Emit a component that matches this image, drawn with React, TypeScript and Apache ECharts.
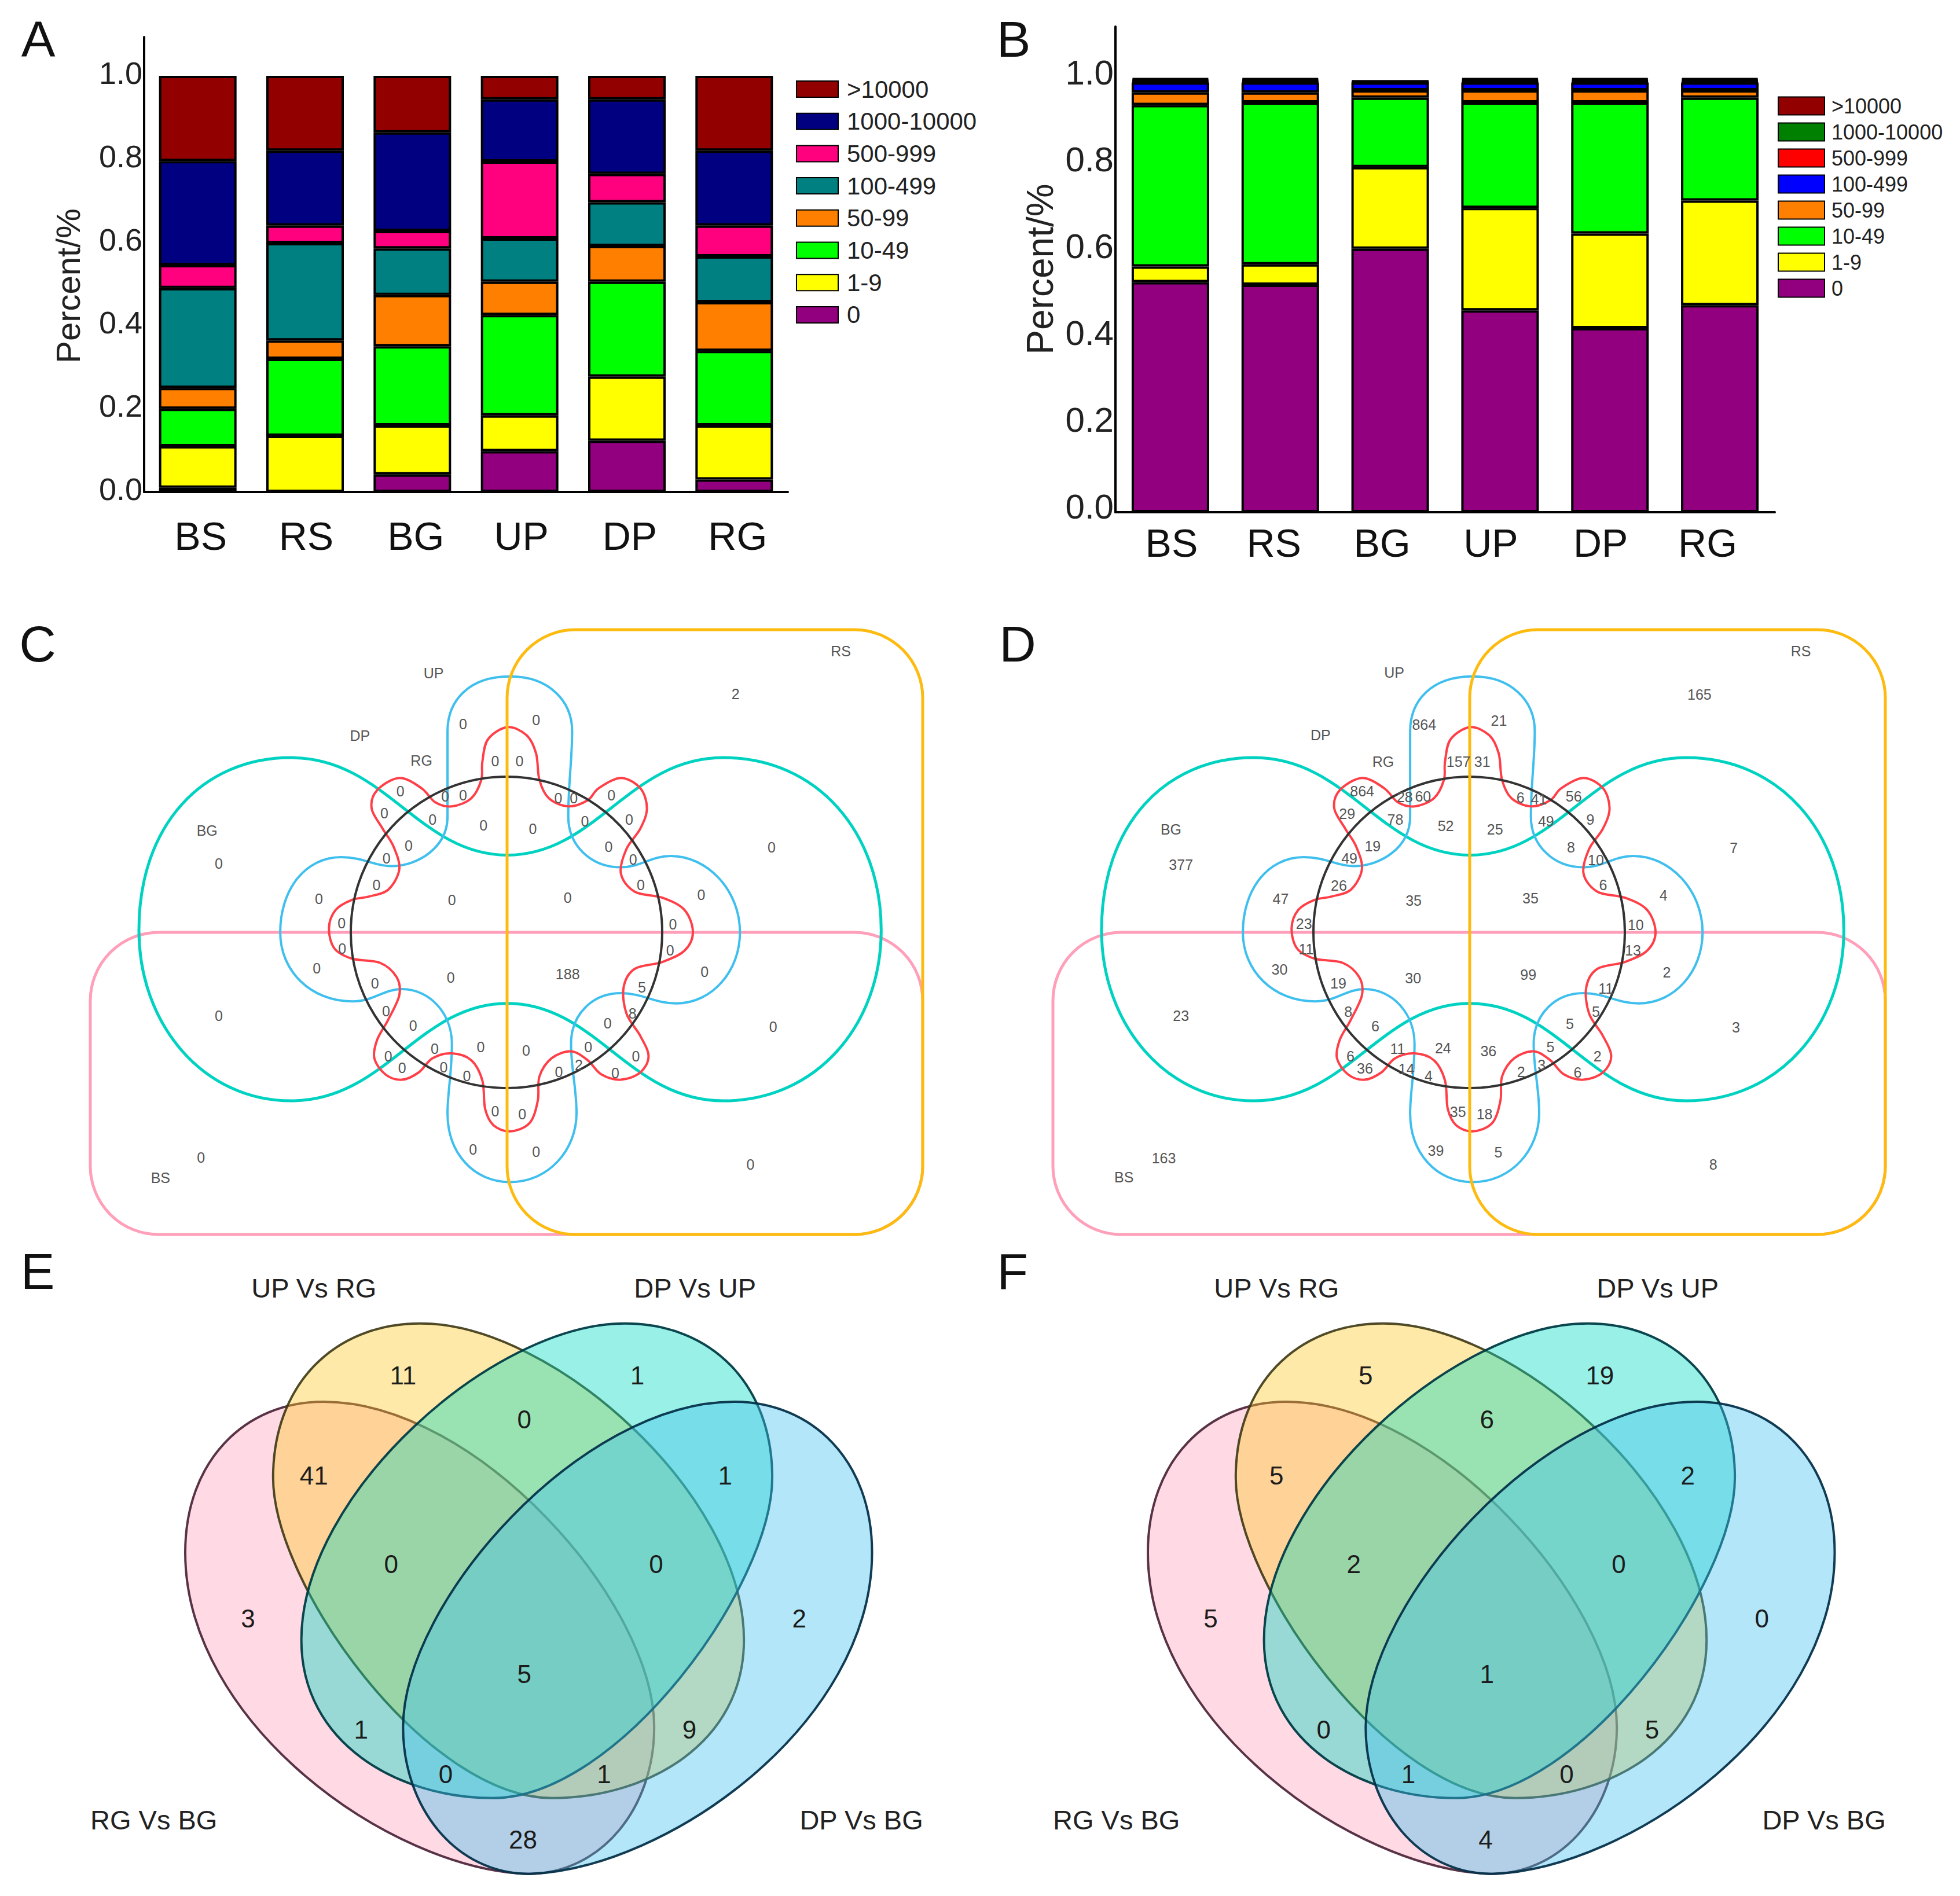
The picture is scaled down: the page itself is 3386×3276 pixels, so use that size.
import React, { useEffect, useRef } from "react";
import * as echarts from "echarts";

const FONT = '"Liberation Sans", Arial, sans-serif';

// ---------- Panels A and B data ----------
const categories = ["BS", "RS", "BG", "UP", "DP", "RG"];
const binNames = ["0", "1-9", "10-49", "50-99", "100-499", "500-999", "1000-10000", ">10000"];
const colorsA = ["#92007f", "#ffff00", "#00ff00", "#ff8000", "#008080", "#ff007f", "#000080", "#930000"];
const colorsB = ["#92007f", "#ffff00", "#00ff00", "#ff8000", "#0000ff", "#ff0000", "#008000", "#930000"];

const a0 = [0.01, 0, 0.042, 0.098, 0.123, 0.03];
const a1 = [0.1, 0.135, 0.118, 0.086, 0.154, 0.13];
const a10 = [0.09, 0.185, 0.19, 0.241, 0.228, 0.179];
const a50 = [0.05, 0.044, 0.123, 0.08, 0.086, 0.117];
const a100 = [0.24, 0.234, 0.112, 0.104, 0.105, 0.11];
const a500 = [0.055, 0.042, 0.042, 0.185, 0.068, 0.074];
const a1000 = [0.25, 0.18, 0.237, 0.149, 0.179, 0.18];
const a10000 = [0.205, 0.18, 0.136, 0.057, 0.057, 0.18];
const seriesA = [a0, a1, a10, a50, a100, a500, a1000, a10000];

const b0 = [0.53, 0.524, 0.607, 0.465, 0.424, 0.477];
const b1 = [0.036, 0.047, 0.188, 0.236, 0.218, 0.241];
const b10 = [0.372, 0.373, 0.16, 0.243, 0.302, 0.237];
const b50 = [0.029, 0.023, 0.017, 0.028, 0.028, 0.017];
const b100 = [0.023, 0.023, 0.018, 0.018, 0.018, 0.018];
const b500 = [0.003, 0.003, 0.001, 0.003, 0.003, 0.003];
const b1000 = [0.003, 0.003, 0.001, 0.003, 0.003, 0.003];
const b10000 = [0.004, 0.004, 0.002, 0.004, 0.004, 0.004];
const seriesB = [b0, b1, b10, b50, b100, b500, b1000, b10000];

const yTicks = { min: 0, interval: 0.2 };

// ---------- Panels C and D data ----------
const setNamesCD = ["UP", "RS", "DP", "RG", "BG", "BS"];
const valuesC = [
  "0", "0", "0", "0", "0", "0", "0", "0", "0", "0", "0", "0", "0", "0", "0", "0",
  "0", "0", "0", "0", "0", "0", "0", "0", "0", "0", "0", "0", "0", "0", "0", "0",
  "0", "188", "0", "5", "0", "8", "0", "0", "0", "0", "0", "0", "0", "0", "0", "0",
  "0", "0", "0", "0", "2", "0", "0", "0", "0", "0", "0", "0", "0", "0", "2",
];
const valuesD = [
  "864", "21", "157", "31", "864", "29", "78", "60", "28", "6", "41", "56", "9", "49", "52", "25",
  "19", "49", "8", "10", "26", "6", "35", "35", "47", "4", "23", "10", "11", "13", "30", "2",
  "30", "99", "19", "11", "8", "5", "6", "5", "23", "3", "11", "24", "36", "5", "6", "2",
  "36", "14", "4", "2", "3", "6", "35", "18", "39", "5", "163", "8", "377", "7", "165",
];

// ---------- Panels E and F data ----------
const setNamesEF = ["UP Vs RG", "DP Vs UP", "RG Vs BG", "DP Vs BG"];
const valuesE = ["11", "1", "0", "41", "1", "0", "0", "3", "2", "5", "1", "9", "0", "1", "28"];
const valuesF = ["5", "19", "6", "5", "2", "2", "0", "5", "0", "1", "0", "5", "1", "0", "4"];

// ---------- Layout (positions in crop coordinates) ----------
type P = [number, number];
type Seg = [number, number, number, number, number, number];
const labelPosC: P[] = [
  [700,272],[832,262],[758,364],[802,364],[587,438],[558,491],[645,507],[700,448],[668,450],[872,455],[900,455],[968,448],[1000,508],[920,511],[737,522],[826,530],
  [602,571],[562,603],[963,574],[1007,606],[544,668],[1021,668],[680,705],[889,700],[440,702],[1130,693],[481,763],[1079,765],[482,825],[1074,829],[436,874],[1136,882],
  [678,896],[889,888],[541,910],[1023,921],[561,979],[1006,985],[610,1015],[961,1009],[259,990],[1260,1017],[649,1071],[732,1068],[814,1076],[926,1068],[565,1090],[1012,1090],
  [590,1119],[665,1117],[707,1138],[873,1128],[909,1112],[975,1131],[758,1226],[807,1232],[718,1320],[832,1325],[227,1340],[1219,1356],[259,616],[1257,576],[1192,198],
];
const labelPosD: P[] = [
  [690,273],[825,263],[752,365],[795,365],[578,438],[551,493],[638,507],[688,450],[655,452],[864,453],[897,458],[960,450],[990,508],[910,512],[729,523],[818,531],
  [597,573],[555,603],[955,575],[1000,607],[536,670],[1013,668],[671,707],[882,701],[431,702],[1122,694],[473,764],[1072,767],[477,827],[1067,830],[429,877],[1128,883],
  [670,898],[878,889],[535,911],[1018,923],[553,980],[1000,981],[602,1016],[953,1010],[251,991],[1253,1019],[642,1072],[724,1070],[806,1078],[918,1068],[557,1090],[1003,1090],
  [583,1120],[658,1121],[698,1138],[865,1128],[902,1112],[967,1130],[751,1227],[799,1232],[711,1322],[824,1326],[220,1341],[1212,1357],[251,618],[1249,577],[1187,199],
];
const setPosC: P[] = [[647,147],[1382,92],[514,300],[625,362],[238,534],[154,1390]];
const setPosD: P[] = [[636,146],[1370,92],[503,299],[616,365],[233,532],[148,1388]];

const tealStart: P = [115, 780];
const tealSegs: Seg[] = [
  [115,520,230,355,390,355],[560,355,620,595,780,595],[940,595,1000,355,1170,355],[1340,355,1455,540,1455,780],
  [1455,1010,1340,1200,1170,1200],[1000,1200,940,960,780,960],[620,960,560,1200,390,1200],[230,1200,115,1010,115,780],
];
const blueStart: P = [785, 155];
const blueSegs: Seg[] = [
  [710,155,672,215,672,290],[672,360,672,420,672,500],[672,575,620,622,570,622],[540,622,520,600,480,600],
  [415,600,370,680,370,785],[370,880,425,955,500,955],[540,955,555,925,590,925],[640,925,680,985,680,1060],
  [680,1130,672,1180,672,1230],[672,1330,720,1400,785,1400],[855,1400,905,1320,905,1230],[905,1170,895,1120,895,1060],
  [895,985,935,935,985,935],[1025,935,1045,960,1085,960],[1150,960,1200,880,1200,785],[1200,680,1140,597,1075,597],
  [1040,597,1020,625,985,625],[930,625,890,570,890,500],[890,420,897,360,897,290],[897,215,855,155,785,155],
];
const redPts: P[] = [
  [780,280],[745,310],[735,365],[733,410],[715,455],[680,475],[650,465],[625,430],[585,405],[545,435],[535,480],[555,530],[575,575],[585,630],[565,680],[530,697],[500,705],[470,730],[458,775],[468,825],[500,850],[550,860],[580,895],[585,940],[565,1000],[545,1050],[540,1095],[560,1135],[590,1148],[620,1130],[645,1095],[680,1083],[715,1100],[735,1150],[740,1220],[755,1260],[785,1275],[820,1255],[835,1200],[838,1140],[860,1095],[895,1078],[925,1100],[950,1135],[985,1148],[1020,1130],[1035,1090],[1020,1040],[995,985],[990,920],[1010,875],[1060,858],[1100,830],[1115,785],[1100,730],[1060,700],[1010,685],[985,640],[995,580],[1020,530],[1032,480],[1020,430],[985,405],[945,430],[925,460],[890,475],[855,455],[838,410],[832,345],[815,300],
];

const lowerEggStart: P = [840, 1512];
const lowerEggSegs: Seg[] = [
  [620,1500,295,1150,295,740],[295,520,390,378,515,378],[760,378,1042,860,1042,1160],[1042,1350,960,1512,840,1512],
];
const upperEggStart: P = [670, 190];
const upperEggSegs: Seg[] = [
  [880,190,1185,600,1185,950],[1185,1200,1030,1330,880,1330],[680,1330,435,820,435,560],[435,340,530,190,670,190],
];
const LOWER_MIRROR = 1684;
const UPPER_MIRROR = 1665;

const countPosEF: P[] = [
  [642,315],[1015,315],[835,420],[500,555],[1155,555],[623,768],[1045,768],[395,898],[1273,898],[835,1032],[575,1165],[1098,1165],[710,1272],[962,1272],[833,1430],
];
const setPosEF: P[] = [[500,105],[1107,105],[245,1382],[1372,1382]];
const DX = 1663;

// ---------- Helpers ----------
const text = (s: string, x: number, y: number, size: number, fill: string, rotation = 0) => ({
  type: "text",
  x,
  y,
  rotation,
  silent: true,
  style: { text: s, fill, fontSize: size, fontFamily: FONT, align: "center", verticalAlign: "middle" },
});

const cdX = (z: number) => z / 1.045 + 130;
const cdY = (z: number) => z / 1.425 + 1060;
const efX = (z: number) => z / 0.922;
const efY = (z: number) => z / 1.39 + 2150;

function pathOf(start: P, segs: Seg[], mapX: (n: number) => number, mapY: (n: number) => number) {
  let d = `M${mapX(start[0]).toFixed(1)} ${mapY(start[1]).toFixed(1)}`;
  segs.forEach((s) => {
    d += `C${mapX(s[0]).toFixed(1)} ${mapY(s[1]).toFixed(1)} ${mapX(s[2]).toFixed(1)} ${mapY(s[3]).toFixed(1)} ${mapX(s[4]).toFixed(1)} ${mapY(s[5]).toFixed(1)}`;
  });
  return d + "Z";
}

function closedSpline(pts: P[]): Seg[] {
  const n = pts.length;
  return pts.map((p1, i) => {
    const p0 = pts[(i - 1 + n) % n];
    const p2 = pts[(i + 1) % n];
    const p3 = pts[(i + 2) % n];
    return [
      p1[0] + (p2[0] - p0[0]) / 6,
      p1[1] + (p2[1] - p0[1]) / 6,
      p2[0] - (p3[0] - p1[0]) / 6,
      p2[1] - (p3[1] - p1[1]) / 6,
      p2[0],
      p2[1],
    ] as Seg;
  });
}

const reg = (name: string, d: string) =>
  echarts.graphic.registerShape(name, echarts.graphic.extendPath(d, {}));

reg("vennTeal", pathOf(tealStart, tealSegs, cdX, cdY));
reg("vennBlue", pathOf(blueStart, blueSegs, cdX, cdY));
reg("vennRed", pathOf(redPts[0], closedSpline(redPts), cdX, cdY));
reg("eggPink", pathOf(lowerEggStart, lowerEggSegs, efX, efY));
reg("eggBlue", pathOf(lowerEggStart, lowerEggSegs, (z) => efX(LOWER_MIRROR - z), efY));
reg("eggYellow", pathOf(upperEggStart, upperEggSegs, efX, efY));
reg("eggTeal", pathOf(upperEggStart, upperEggSegs, (z) => efX(UPPER_MIRROR - z), efY));

function vennCD(dx: number, values: string[], pos: P[], setPos: P[], labelDx: number) {
  const els: any[] = [];
  const line = (stroke: string, lineWidth: number) => ({ fill: "none", stroke, lineWidth });
  els.push({ type: "rect", silent: true, shape: { x: 156 + dx, y: 1611, width: 1438, height: 522, r: 118 }, style: line("#ff9fb9", 5) });
  els.push({ type: "vennTeal", x: dx, silent: true, style: line("#00d2c1", 5) });
  els.push({ type: "vennBlue", x: dx, silent: true, style: line("#3fbfee", 4) });
  els.push({ type: "vennRed", x: dx, silent: true, style: line("#ff3f48", 4) });
  els.push({ type: "circle", silent: true, shape: { cx: 875 + dx, cy: 1611, r: 269 }, style: line("#333333", 4) });
  els.push({ type: "rect", silent: true, shape: { x: 876 + dx, y: 1088, width: 718, height: 1045, r: 118 }, style: line("#fdbb0f", 5) });
  pos.forEach(([x, y], i) => {
    els.push(text(values[i], x / 1.045 + labelDx, cdY(y), 25, "#555555"));
  });
  setPos.forEach(([x, y], i) => {
    els.push(text(setNamesCD[i], x / 1.045 + labelDx, cdY(y), 25, "#555555"));
  });
  return els;
}

function vennEF(dx: number, values: string[]) {
  const els: any[] = [];
  const mapX = (z: number) => efX(z) + dx;
  const fillShape = (type: string, fill: string, stroke: string) => ({
    type,
    x: dx,
    silent: true,
    style: { fill, stroke, lineWidth: 4 },
  });
  els.push(fillShape("eggPink", "rgba(255,160,185,0.4)", "rgba(70,30,50,0.9)"));
  els.push(fillShape("eggYellow", "rgba(255,200,37,0.4)", "rgba(60,55,20,0.9)"));
  els.push(fillShape("eggTeal", "rgba(0,217,192,0.4)", "rgba(0,60,70,0.95)"));
  els.push(fillShape("eggBlue", "rgba(65,192,237,0.4)", "rgba(5,50,75,0.95)"));
  countPosEF.forEach(([x, y], i) => {
    els.push(text(values[i], mapX(x), efY(y), 44, "#1c1c1c"));
  });
  setPosEF.forEach(([x, y], i) => {
    els.push(text(setNamesEF[i], mapX(x), efY(y), 47, "#222222"));
  });
  return els;
}

function barSeries(prefix: string, data: number[][], colors: string[], axis: number) {
  return data.map((values, i) => ({
    name: `${prefix}:${binNames[i]}`,
    type: "bar",
    stack: prefix,
    xAxisIndex: axis,
    yAxisIndex: axis,
    barWidth: 134,
    silent: true,
    data: values,
    itemStyle: { color: colors[i], borderColor: "#000000", borderWidth: 4 },
  }));
}

const yAxisOf = (gridIndex: number, max: number, size: number, lift: number) => ({
  type: "value",
  gridIndex,
  min: yTicks.min,
  max,
  interval: yTicks.interval,
  splitLine: { show: false },
  axisTick: { show: false },
  axisLine: { show: true, lineStyle: { color: "#000000", width: 4 } },
  axisLabel: {
    fontSize: size,
    fontFamily: FONT,
    color: "#222222",
    margin: 3,
    verticalAlign: "bottom",
    lineHeight: lift,
    showMaxLabel: false,
    formatter: (v: number) => v.toFixed(1),
  },
});

const xAxisOf = (gridIndex: number, margin: number, shifts: number[]) => ({
  type: "category",
  gridIndex,
  data: categories.map((c, i) => ({
    value: c,
    textStyle: { padding: shifts[i] >= 0 ? [0, 0, 0, shifts[i]] : [0, -shifts[i], 0, 0] },
  })),
  axisTick: { show: false },
  axisLine: { show: true, onZero: false, lineStyle: { color: "#000000", width: 4 } },
  axisLabel: { fontSize: 68, fontFamily: FONT, color: "#111111", margin, interval: 0 },
});

const legendOf = (prefix: string, left: number, top: number, w: number, h: number, gap: number, size: number, pad: number) => ({
  orient: "vertical",
  left,
  top,
  itemWidth: w,
  itemHeight: h,
  itemGap: gap,
  icon: "rect",
  selectedMode: false,
  data: [...binNames].reverse().map((n) => `${prefix}:${n}`),
  formatter: (n: string) => n.slice(2),
  textStyle: { fontSize: size, fontFamily: FONT, color: "#222222", padding: [0, 0, 0, pad] },
});

export default function App() {
  const ref = useRef<HTMLDivElement>(null);
  useEffect(() => {
    if (!ref.current) return;
    const chart = echarts.init(ref.current, null, { renderer: "svg" });
    chart.setOption({
      animation: false,
      backgroundColor: "#ffffff",
      grid: [
        { left: 249, top: 64, width: 1112, height: 786 },
        { left: 1927, top: 46, width: 1139, height: 839 },
      ],
      xAxis: [xAxisOf(0, 42, [10, 4, 12, 6, 10, 12]), xAxisOf(1, 19, [4, -22, -28, -32, -32, -42])],
      yAxis: [yAxisOf(0, 1.093, 54, 10), yAxisOf(1, 1.1187, 60, 20)],
      legend: [
        legendOf("A", 1370, 128, 72, 28, 13.7, 42, 10),
        legendOf("B", 3066, 160, 80, 31, 9, 36, 7),
      ],
      series: [...barSeries("A", seriesA, colorsA, 0), ...barSeries("B", seriesB, colorsB, 1)],
      graphic: {
        elements: [
          text("A", 66, 67, 88, "#111111"),
          text("B", 1751, 67, 88, "#111111"),
          text("C", 65, 1112, 88, "#111111"),
          text("D", 1758, 1112, 88, "#111111"),
          text("E", 65, 2196, 88, "#111111"),
          text("F", 1749, 2196, 88, "#111111"),
          text("Percent/%", 117, 494, 58, "#222222", Math.PI / 2),
          text("Percent/%", 1797, 465, 64, "#222222", Math.PI / 2),
          ...vennCD(0, valuesC, labelPosC, setPosC, 130),
          ...vennCD(DX, valuesD, labelPosD, setPosD, 1800),
          ...vennEF(0, valuesE),
          ...vennEF(DX, valuesF),
        ],
      },
    });
    return () => chart.dispose();
  }, []);
  return <div ref={ref} style={{ position: "absolute", left: 0, top: 0, width: 3386, height: 3276 }} />;
}
